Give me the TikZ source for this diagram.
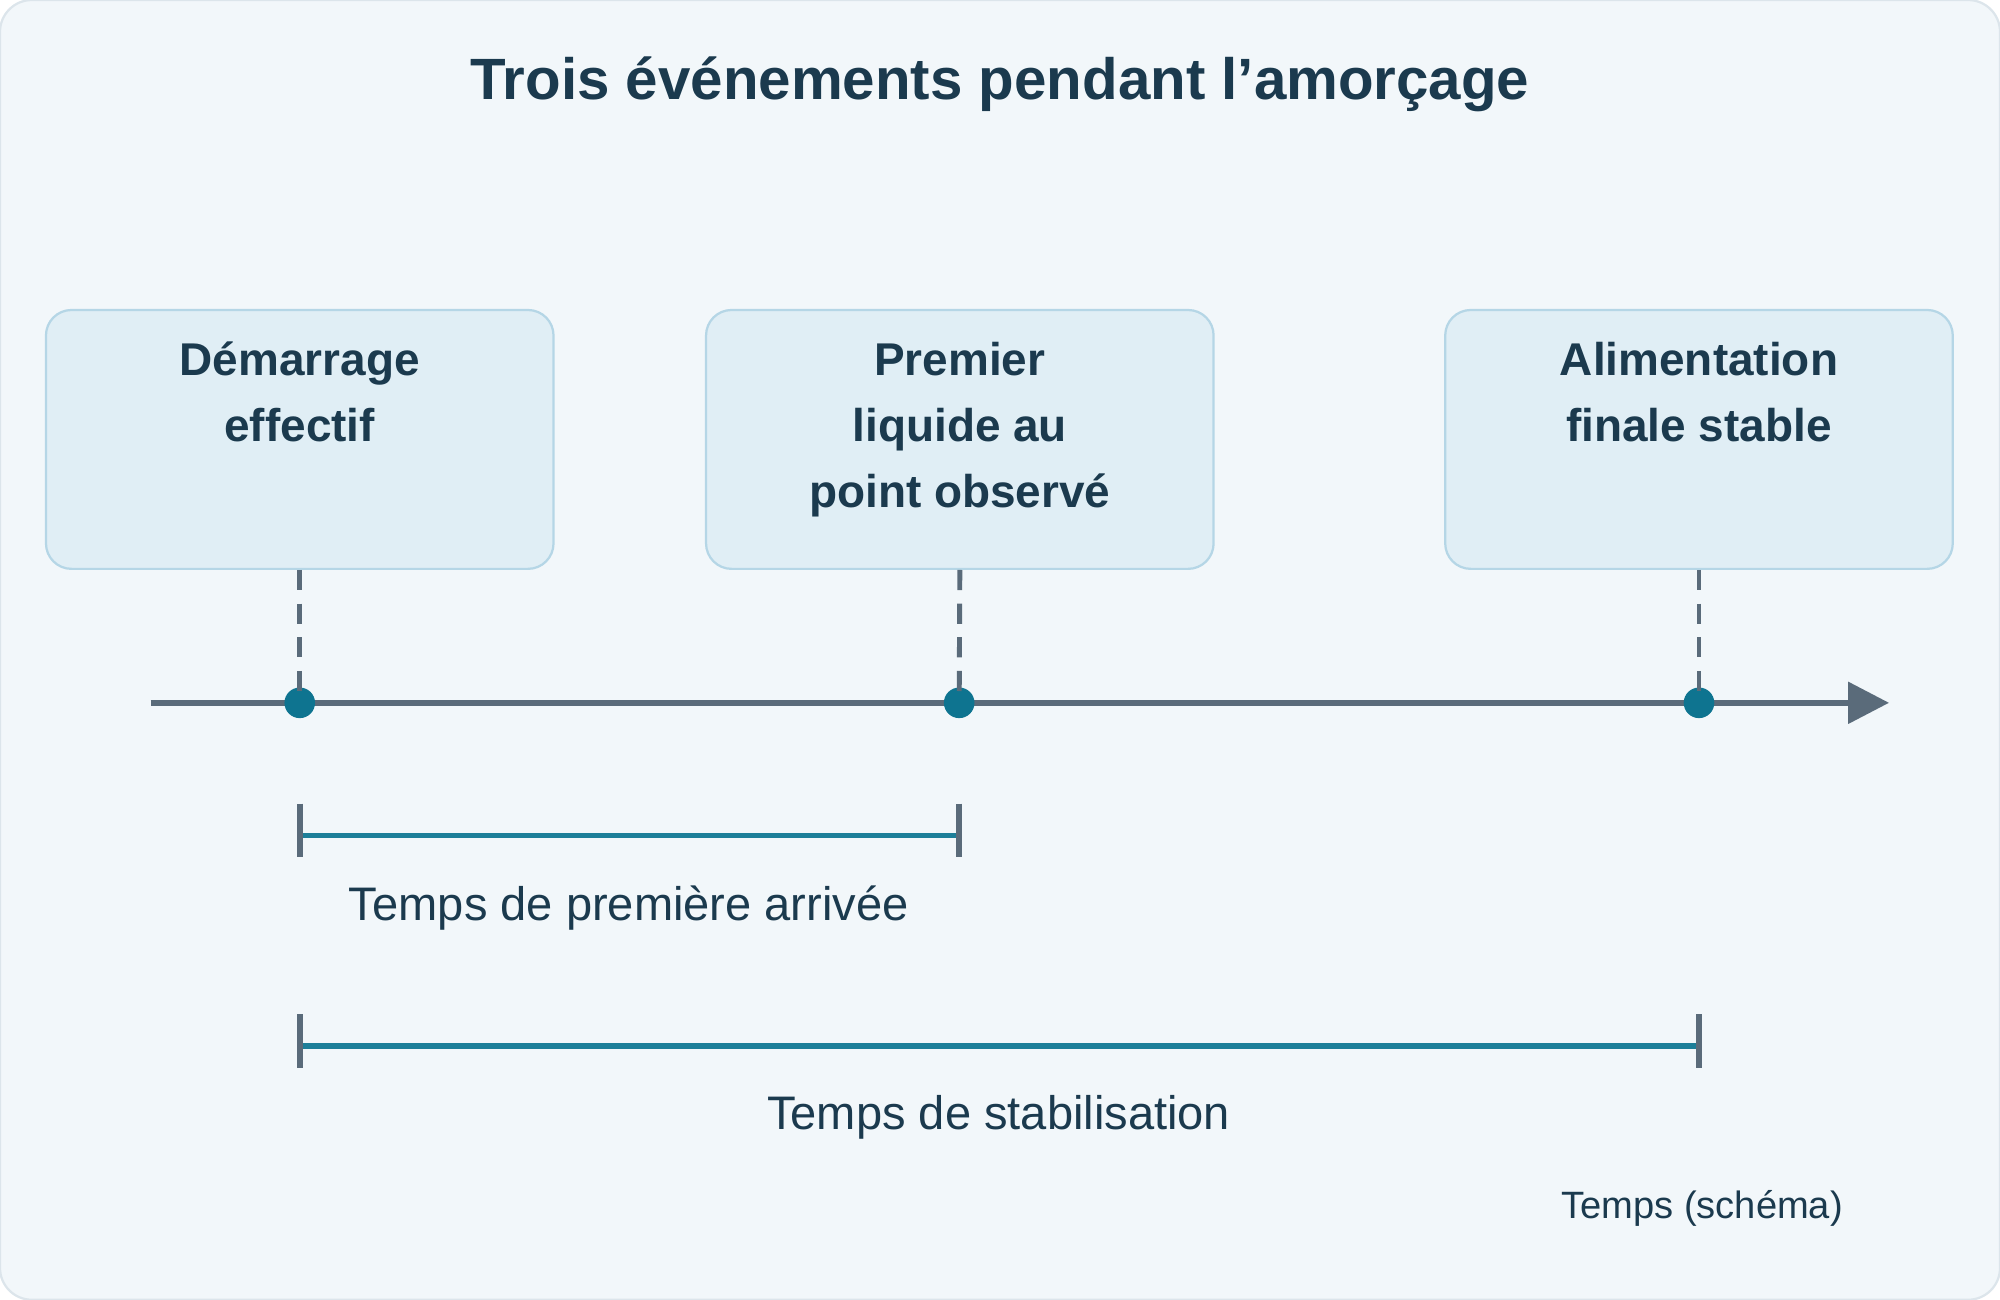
\documentclass[tikz,border=0pt]{standalone}
\usepackage{fontspec}
\setmainfont{Liberation Sans}
\usetikzlibrary{arrows.meta}
\definecolor{bg}{HTML}{F2F7FA}
\definecolor{bgline}{HTML}{DCE5EB}
\definecolor{boxfill}{HTML}{E0EEF5}
\definecolor{boxline}{HTML}{B5D6E6}
\definecolor{txt}{HTML}{1B3A4E}
\definecolor{axis}{HTML}{5A6B7A}
\definecolor{dot}{HTML}{0E7490}
\definecolor{span}{HTML}{1D7F99}
\begin{document}
\begin{tikzpicture}[x=0.02cm,y=-0.02cm,
  ev/.style={draw=boxline,fill=boxfill,rounded corners=0.4cm,line width=1pt,minimum width=7.96cm,minimum height=4.06cm,inner sep=0pt},
  evt/.style={text=txt,font=\fontsize{20.5}{29.5}\selectfont\bfseries,align=center,anchor=north},
  guide/.style={axis,line width=2.2pt,dash pattern=on 9pt off 6pt},
  ev dot/.style={circle,fill=dot,minimum size=0.48cm,inner sep=0pt},
  tick/.style={axis,line width=2.5pt},
  spanl/.style={span,line width=2.5pt},
  lab/.style={text=txt,font=\fontsize{21}{25}\selectfont}]
\useasboundingbox (0,0) rectangle (1568,1019);
\draw[bgline,fill=bg,rounded corners=0.5cm,line width=1pt] (0,0) rectangle (1568,1019);
\node[text=txt,font=\fontsize{26}{30}\selectfont\bfseries] (title) at (784,66) {Trois événements pendant l’amorçage};
\node[ev] (b1) at (235,344.5) {};
\node[ev] (b2) at (752.5,344.5) {};
\node[ev] (b3) at (1332,344.5) {};
\node[evt] (t1) at (235,262) {Démarrage\\effectif};
\node[evt] (t2) at (752.5,262) {Premier\\liquide au\\point observé};
\node[evt] (t3) at (1332,262) {Alimentation\\finale stable};
\coordinate (a0) at (118,551);
\coordinate (a1) at (1481,551);
\draw[axis,line width=2.5pt,-{Triangle[length=0.64cm,width=0.64cm]}] (a0) -- (a1);
\node[ev dot] (d1) at (235,551) {};
\node[ev dot] (d2) at (752,551) {};
\node[ev dot] (d3) at (1332,551) {};
\draw[guide] (b1.south) -- (d1.center);
\draw[guide] (b2.south) -- (d2.center);
\draw[guide] (b3.south) -- (d3.center);
\coordinate (s1a) at (235,655); \coordinate (s1b) at (752,655);
\coordinate (k1a) at (235,630); \coordinate (k1b) at (235,672);
\coordinate (k2a) at (752,630); \coordinate (k2b) at (752,672);
\draw[spanl] (s1a) -- (s1b);
\draw[tick] (k1a) -- (k1b);
\draw[tick] (k2a) -- (k2b);
\node[lab] (l1) at (493,712) {Temps de première arrivée};
\coordinate (s2a) at (235,820); \coordinate (s2b) at (1332,820);
\coordinate (k3a) at (235,795); \coordinate (k3b) at (235,837);
\coordinate (k4a) at (1332,795); \coordinate (k4b) at (1332,837);
\draw[spanl] (s2a) -- (s2b);
\draw[tick] (k3a) -- (k3b);
\draw[tick] (k4a) -- (k4b);
\node[lab] (l2) at (783,876) {Temps de stabilisation};
\node[text=txt,font=\fontsize{17}{20}\selectfont,anchor=east] (l3) at (1451,947) {Temps (schéma)};
\end{tikzpicture}
\end{document}
